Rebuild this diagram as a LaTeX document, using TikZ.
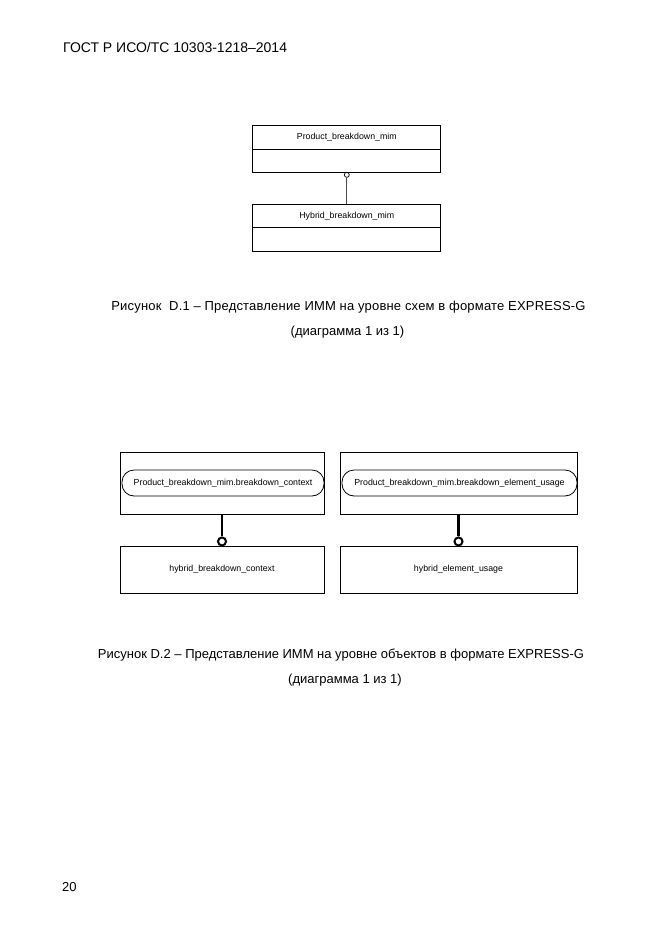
\documentclass[tikz,border=0pt]{standalone}
\usepackage{fontspec}
\setmainfont{Liberation Sans}
\usetikzlibrary{positioning}
\tikzset{
  entbox/.style={draw, line width=0.8pt, inner sep=0pt, outer sep=0pt, font=\fontsize{8.8}{10}\selectfont},
  refpill/.style={draw, line width=0.8pt, rounded corners=12pt, inner sep=0pt, outer sep=0pt, font=\fontsize{8.8}{10}\selectfont},
  caption/.style={inner sep=0pt, font=\fontsize{13}{15}\selectfont}
}
\begin{document}
\begin{tikzpicture}[x=1pt, y=-1pt]
\useasboundingbox (0,0) rectangle (661,935);
% header and page number
\node[inner sep=0pt, anchor=west, font=\fontsize{14}{16}\selectfont] (head) at (63,47) {ГОСТ Р ИСО/ТС 10303-1218–2014};
\node[inner sep=0pt, anchor=west, font=\fontsize{13}{16}\selectfont] (page) at (62,887.5) {20};

% schema level diagram
\node[entbox, minimum width=188pt, minimum height=24pt] (pbm) at (346.8,137) {Product\_breakdown\_mim};
\node[entbox, minimum width=188pt, minimum height=23pt, below=0pt of pbm] (pbmb) {};
\node[entbox, minimum width=188pt, minimum height=23pt] (hbm) at (346.8,215.8) {Hybrid\_breakdown\_mim};
\node[entbox, minimum width=188pt, minimum height=24pt, below=0pt of hbm] (hbmb) {};
\node[draw, circle, line width=0.7pt, inner sep=0pt, minimum size=5pt, below=0pt of pbmb] (ring) {};
\draw[line width=0.8pt, black!70] (ring) -- (hbm);

\node[caption] (capA) at (348.5,307) {\addfontfeatures{LetterSpace=1.5}Рисунок\ \ D.1 – Представление ИММ на уровне схем в формате EXPRESS-G};
\node[caption] (capAb) at (347.5,332) {(диаграмма 1 из 1)};

% entity level diagram
\node[entbox, minimum width=204pt, minimum height=62pt] (ctx) at (222,483) {};
\node[refpill, minimum width=202pt, minimum height=26pt, anchor=east] (ctxref) at (ctx.east) {Product\_breakdown\_mim.breakdown\_context};
\node[entbox, minimum width=237pt, minimum height=62pt] (usg) at (458.5,483) {};
\node[refpill, minimum width=235pt, minimum height=26pt, anchor=east] (usgref) at (usg.east) {Product\_breakdown\_mim.breakdown\_element\_usage};
\node[entbox, minimum width=204pt, minimum height=46.5pt] (hctx) at (222,569.7) {hybrid\_breakdown\_context};
\node[entbox, minimum width=237pt, minimum height=46.5pt] (husg) at (458.5,569.7) {hybrid\_element\_usage};
\node[draw, circle, line width=2pt, inner sep=0pt, minimum size=8pt, above=0pt of hctx] (ringA) {};
\node[draw, circle, line width=2pt, inner sep=0pt, minimum size=8pt, above=0pt of husg] (ringB) {};
\draw[line width=2.6pt] (ctx) -- (ringA);
\draw[line width=2.6pt] (usg) -- (ringB);

\node[caption] (capB) at (341,655) {Рисунок D.2 – Представление ИММ на уровне объектов в формате EXPRESS-G};
\node[caption] (capBb) at (345,680) {(диаграмма 1 из 1)};
\end{tikzpicture}
\end{document}
